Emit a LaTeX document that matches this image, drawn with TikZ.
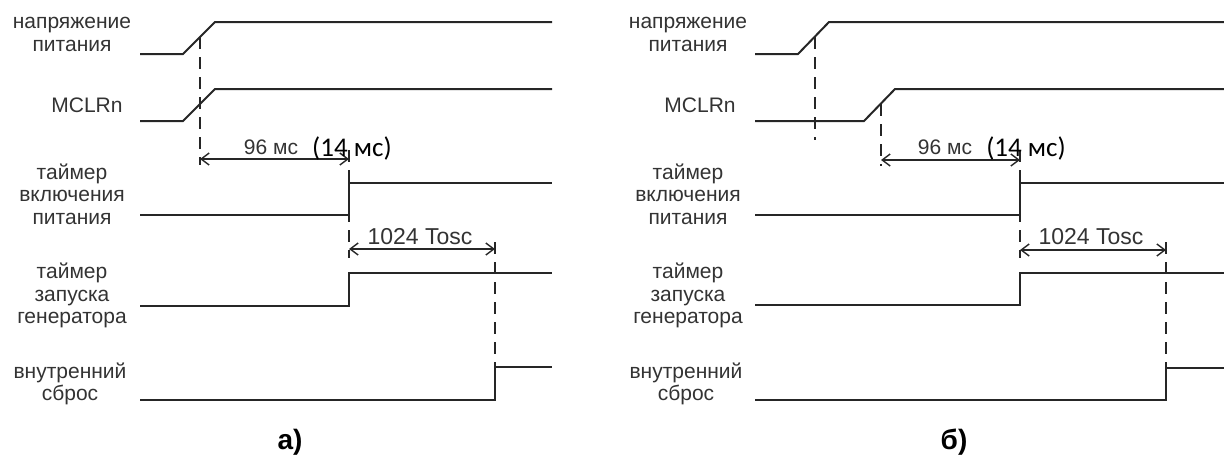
\documentclass[tikz,border=0pt]{standalone}
\usepackage{fontspec}
\setmainfont{Liberation Sans}
\newfontfamily\calibrifont{Carlito}
\usetikzlibrary{arrows.meta}
\usetikzlibrary{positioning}

\newcommand{\sigfont}{\fontsize{10.5}{11.25}\selectfont}
\newcommand{\dimfont}{\fontsize{10.5}{12}\selectfont}

\begin{document}
\begin{tikzpicture}[
  x=0.5pt, y=-0.5pt,
  every node/.style={font=\sigfont, text=black!80, align=center, inner sep=0pt},
  wave/.style={line width=1pt, draw=black!85, line join=miter},
  guide/.style={line width=1pt, draw=black!85, dash pattern=on 6pt off 4pt},
  span/.style={<->, line width=0.7pt, draw=black!85},
]
\tikzset{>={Straight Barb[length=4pt, width=6pt]}}
\useasboundingbox (0,0) rectangle (1224,457);

  % Labels a)
  \node (ua)  at (72,34.5) {напряжение\\питания};
  \node (ma)  at (87,105)  {MCLRn};
  \node (pa)  at (72,194)  {таймер\\включения\\питания};
  \node (oa)  at (72,295.5){таймер\\запуска\\генератора};
  \node (ra)  at (70,384)  {внутренний\\сброс};
  \node[font=\bfseries\fontsize{14}{14}\selectfont, text=black] (capa) at (290,442) {а)};

  % Labels b)
  \node (ub)  at (688,34.5) {напряжение\\питания};
  \node (mb)  at (700,105)  {MCLRn};
  \node (pb)  at (688,194)  {таймер\\включения\\питания};
  \node (ob)  at (688,295.5){таймер\\запуска\\генератора};
  \node (rb)  at (686,384)  {внутренний\\сброс};
  \node[font=\bfseries\fontsize{14}{14}\selectfont, text=black] (capb) at (954,442) {б)};

  % Event points a)
  \coordinate (a1) at (200,37);   \coordinate (a1e) at (200,165);
  \coordinate (a2) at (349,150);  \coordinate (a2e) at (349,258);
  \coordinate (a3) at (495,242);  \coordinate (a3e) at (495,367);

  % Event points b)
  \coordinate (b0) at (815,37);   \coordinate (b0e) at (815,140);
  \coordinate (b1) at (881,104);  \coordinate (b1e) at (881,166);
  \coordinate (b2) at (1020,150); \coordinate (b2e) at (1020,258);
  \coordinate (b3) at (1166,242); \coordinate (b3e) at (1166,368);

  % Waves a)
  \draw[wave] (140,54)  -- (183,54)  -- (215,22) -- (552,22);
  \draw[wave] (140,121) -- (183,121) -- (215,89) -- (552,89);
  \draw[wave] (140,215) -- (349,215) -- (349,183) -- (552,183);
  \draw[wave] (140,306) -- (349,306) -- (349,273) -- (552,273);
  \draw[wave] (140,400) -- (495,400) -- (495,367) -- (552,367);

  % Waves b)
  \draw[wave] (755,54)  -- (798,54)  -- (829,22) -- (1224,22);
  \draw[wave] (755,121) -- (864,121) -- (895,89) -- (1224,89);
  \draw[wave] (755,215) -- (1020,215) -- (1020,183) -- (1224,183);
  \draw[wave] (755,305) -- (1020,305) -- (1020,273) -- (1224,273);
  \draw[wave] (755,400) -- (1166,400) -- (1166,368) -- (1224,368);

  % Guides
  \draw[guide] (a1) -- (a1e);
  \draw[guide] (a2) -- (a2e);
  \draw[guide] (a3) -- (a3e);
  \draw[guide] (b0) -- (b0e);
  \draw[guide] (b1) -- (b1e);
  \draw[guide] (b2) -- (b2e);
  \draw[guide] (b3) -- (b3e);

  % Spans a)
  \coordinate (sa1) at (200,159); \coordinate (sa2) at (349,159);
  \coordinate (sa3) at (349,249); \coordinate (sa4) at (495,249);
  \draw[span] (sa1) -- (sa2);
  \draw[span] (sa3) -- (sa4);
  \node[font=\dimfont] (ta) at (271,147) {96 мс};
  \node[font=\calibrifont\fontsize{13.5}{14}\selectfont, text=black] (qa) at (352,148) {(14 мс)};
  \node[font=\fontsize{11.5}{12}\selectfont] (na) at (420,237) {1024 Tosc};

  % Spans b)
  \coordinate (sb1) at (881,160);  \coordinate (sb2) at (1020,160);
  \coordinate (sb3) at (1020,250); \coordinate (sb4) at (1166,250);
  \draw[span] (sb1) -- (sb2);
  \draw[span] (sb3) -- (sb4);
  \node[font=\dimfont] (tb) at (945,147) {96 мс};
  \node[font=\calibrifont\fontsize{13.5}{14}\selectfont, text=black] (qb) at (1026,148) {(14 мс)};
  \node[font=\fontsize{11.5}{12}\selectfont] (nb) at (1091,237) {1024 Tosc};

\end{tikzpicture}
\end{document}
